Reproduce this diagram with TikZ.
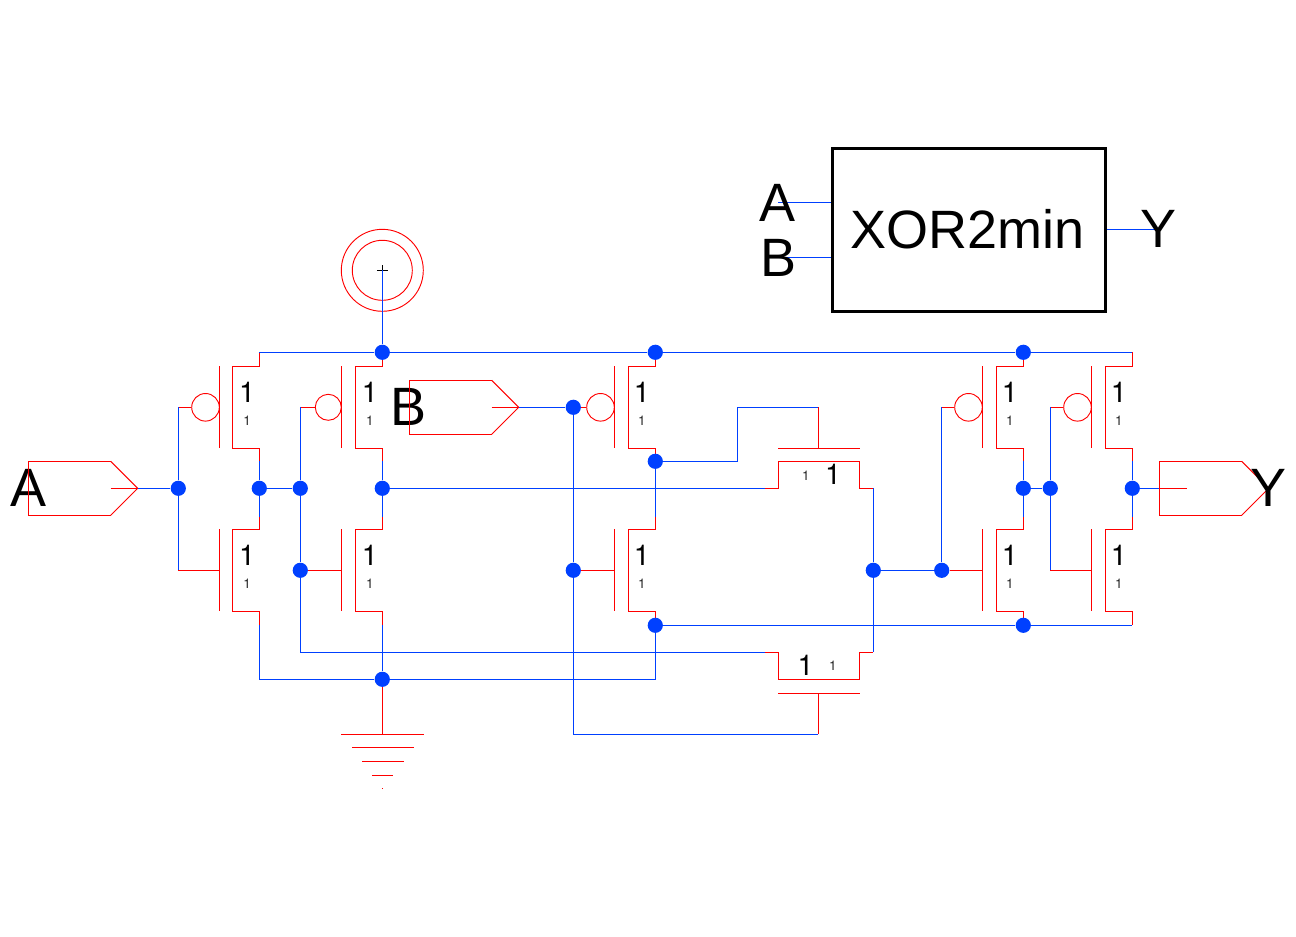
\documentclass[tikz,border=0pt]{standalone}
\usepackage{fontspec}
\setmainfont{Liberation Sans}
\newfontfamily\heros{TeX Gyre Heros}
\definecolor{wireblue}{RGB}{0,64,255}
\definecolor{devred}{RGB}{255,0,0}
\tikzset{
  bw/.style={draw=wireblue,line width=1pt},
  rw/.style={draw=devred,line width=1pt},
  rthin/.style={draw=devred,line width=0.7pt},
  dot/.style={circle,fill=wireblue,inner sep=0pt,minimum size=11.4pt},
  bigone/.style={inner sep=0pt,anchor=base,font=\heros\fontsize{21.5}{21.5}\selectfont},
  smallone/.style={inner sep=0pt,anchor=base,font=\heros\fontsize{10}{10}\selectfont,text=black!85},
  lab/.style={inner sep=0pt,anchor=base,font=\fontsize{40.5}{40.5}\selectfont},
  bubble/.style={circle,rthin,inner sep=0pt},
}
% name, gate x, channel x, rail x, centre y, stub above, stub below, label x
\newcommand{\fetbody}[8]{%
  \draw[rw] (#2,#5-41) -- (#2,#5+41);
  \draw[rw,line join=miter] (#4,#5-#6) -- (#4,#5-41) -- (#3,#5-41) -- (#3,#5+41) -- (#4,#5+41) -- (#4,#5+#7);
  \coordinate (#1-g) at (#2,#5);
  \coordinate (#1-d) at (#4,#5-#6);
  \coordinate (#1-s) at (#4,#5+#7);
  \node[bigone] (#1-w) at (#8+0.8,#5-4.6) {1};
  \node[smallone] (#1-l) at (#8+0.8,#5+18.4) {1};
}
% name, gate x, channel x, rail x, label x, bubble radius (px)
\newcommand{\pfet}[6]{%
  \fetbody{#1}{#2}{#3}{#4}{407.3}{55}{53.5}{#5}
  \node[bubble,minimum size=#6*1.5pt] (#1-b) at (#2-#6,407.3) {};
}
\newcommand{\nfet}[5]{%
  \fetbody{#1}{#2}{#3}{#4}{570.3}{53.5}{55}{#5}
}
% name, left x, mid y
\newcommand{\pinshape}[3]{%
  \draw[rw,line join=miter] (#2+82.4,#3-27) -- (#2,#3-27) -- (#2,#3+27) -- (#2+82.4,#3+27);
  \draw[rthin] (#2+82.4,#3-27) -- (#2+109.4,#3) -- (#2+82.4,#3+27);
  \coordinate (#1-tip) at (#2+109.4,#3);
  \coordinate (#1-sh) at (#2+82.4,#3);
  \coordinate (#1-in) at (#2,#3);
  \coordinate (#1-st) at (#2+27.4,#3);
}
\begin{document}
\begin{tikzpicture}[x=0.75pt,y=-0.75pt]
\path[use as bounding box,fill=white] (0,0) rectangle (1296,936);

% labels that lie under the port outlines
\node[lab] (tA) at (28.3,506.7) {A};
\node[lab] (tB) at (409,425) {B};

% transistors
\pfet{pa}{219.3}{232.3}{259.3}{246.2}{13.8}
\pfet{pb}{341.3}{355.3}{382.3}{369}{13}
\pfet{pc}{614.3}{628.3}{655.3}{641}{13.8}
\pfet{pd}{982.3}{996.3}{1023.3}{1009}{13.8}
\pfet{pe}{1091.3}{1105.3}{1132.3}{1118}{13.8}
\nfet{na}{219.3}{232.3}{259.3}{246.2}
\nfet{nb}{341.3}{355.3}{382.3}{369}
\nfet{nc}{614.3}{628.3}{655.3}{641}
\nfet{nd}{982.3}{996.3}{1023.3}{1009}
\nfet{ne}{1091.3}{1105.3}{1132.3}{1118}

% transmission gate, upper
\coordinate (tu-in) at (765,488.3);
\coordinate (tu-out) at (873.3,488.3);
\coordinate (tu-gate) at (818.3,407.3);
\coordinate (tu-bar) at (818.3,448.3);
\draw[rw] (tu-in) -- (778.3,488.3) -- (778.3,461.3) -- (859.3,461.3) -- (859.3,488.3) -- (tu-out);
\draw[rw] (778,448.3) -- (859.7,448.3);
\draw[rw] (tu-gate) -- (tu-bar);
\node[smallone] (tul) at (805.8,480) {1};
\node[bigone] (tuw) at (833,484) {1};

% transmission gate, lower
\coordinate (tl-in) at (765,652.3);
\coordinate (tl-out) at (873.3,652.3);
\coordinate (tl-gate) at (818.3,734.3);
\coordinate (tl-bar) at (818.3,693.3);
\draw[rw] (tl-in) -- (778.3,652.3) -- (778.3,679.3) -- (859.3,679.3) -- (859.3,652.3) -- (tl-out);
\draw[rw] (778,693.3) -- (859.7,693.3);
\draw[rw] (tl-gate) -- (tl-bar);
\node[smallone] (tll) at (832.8,670.7) {1};
\node[bigone] (tlw) at (805.7,675) {1};

% ports
\pinshape{pA}{28.3}{488.3}
\draw[rw] (pA-sh) -- (pA-tip);
\pinshape{pB}{409.3}{407.3}
\draw[rw] (pB-sh) -- (pB-tip);
\pinshape{pY}{1159.3}{488.3}
\draw[rw] (pY-in) -- (pY-st);
\node[lab] (tY) at (1268.5,506.7) {Y};

% supply
\node[circle,rthin,inner sep=0pt,minimum size=61.5pt] (vo) at (382.3,270.3) {};
\node[circle,rthin,inner sep=0pt,minimum size=45pt] (vi) at (382.3,270.3) {};
\draw[line width=0.7pt] (376.8,270.3) -- (387.8,270.3) (382.3,265) -- (382.3,275.5);

% junction dots
\node[dot] (jV1) at (382.3,352.3) {};
\node[dot] (jV2) at (655.3,352.3) {};
\node[dot] (jV3) at (1023.3,352.3) {};
\node[dot] (jA) at (178.3,488.3) {};
\node[dot] (jC) at (259.3,488.3) {};
\node[dot] (jD) at (300.3,488.3) {};
\node[dot] (jE) at (382.3,488.3) {};
\node[dot] (jF) at (300.3,570.3) {};
\node[dot] (jB) at (573.3,407.3) {};
\node[dot] (jH) at (573.3,570.3) {};
\node[dot] (jQ) at (655.3,461.3) {};
\node[dot] (jR) at (655.3,625.3) {};
\node[dot] (jM) at (873.3,570.3) {};
\node[dot] (jK) at (941.7,570.3) {};
\node[dot] (jS) at (1023.3,625.3) {};
\node[dot] (jT) at (1023.3,488.3) {};
\node[dot] (jU) at (1050.3,488.3) {};
\node[dot] (jW) at (1132.3,488.3) {};
\node[dot] (jG) at (382.3,679.3) {};

% ground
\coordinate (gnd) at (382.3,734.3);
\draw[rw] (jG) -- (gnd);
\draw[rw] (341,734.3) -- (423.7,734.3);
\draw[rw] (352,747.3) -- (414,747.3);
\draw[rw] (362,761.3) -- (404,761.3);
\draw[rw] (372,775.3) -- (393,775.3);
\draw[rw] (381.8,788.3) -- (382.8,788.3);

% gate corners
\coordinate (ca) at (178.3,407.3);
\coordinate (cb) at (300.3,407.3);
\coordinate (cd) at (941.7,407.3);
\coordinate (ce) at (1050.3,407.3);
\coordinate (cna) at (178.3,570.3);
\coordinate (cne) at (1050.3,570.3);
\draw[rw] (ca) -- (pa-b);
\draw[rw] (cb) -- (pb-b);
\draw[rw] (jB) -- (pc-b);
\draw[rw] (cd) -- (pd-b);
\draw[rw] (ce) -- (pe-b);
\draw[rw] (cna) -- (na-g);
\draw[rw] (jF) -- (nb-g);
\draw[rw] (jH) -- (nc-g);
\draw[rw] (jK) -- (nd-g);
\draw[rw] (cne) -- (ne-g);

% blue wiring
\draw[bw] (vi.center) -- (jV1);
\draw[bw] (pa-d) -- (jV1);
\draw[bw] (jV1) -- (jV2);
\draw[bw] (jV2) -- (jV3);
\draw[bw] (jV3) -- (pe-d);
\draw[bw] (pA-tip) -- (jA);
\draw[bw] (jA) -- (ca);
\draw[bw] (jA) -- (cna);
\draw[bw] (pa-s) -- (jC);
\draw[bw] (jC) -- (na-d);
\draw[bw] (jC) -- (jD);
\draw[bw] (jD) -- (cb);
\draw[bw] (jD) -- (jF);
\draw[bw] (pb-s) -- (jE);
\draw[bw] (jE) -- (nb-d);
\draw[bw] (jE) -- (tu-in);
\draw[bw] (na-s) |- (jG);
\draw[bw] (nb-s) -- (jG);
\draw[bw] (jF) |- (tl-in);
\draw[bw] (jG) -| (jR);
\draw[bw] (jR) -- (jS);
\draw[bw] (jS) -- (ne-s);
\draw[bw] (pB-tip) -- (jB);
\draw[bw] (jB) -- (jH);
\draw[bw] (jH) |- (tl-gate);
\draw[bw] (jQ) -- (nc-d);
\draw[bw] (jQ) -- (737.3,461.3) -- (737.3,407.3) -- (tu-gate);
\draw[bw] (tu-out) -- (jM);
\draw[bw] (jM) -- (tl-out);
\draw[bw] (jM) -- (jK);
\draw[bw] (jK) -- (cd);
\draw[bw] (pd-s) -- (jT);
\draw[bw] (jT) -- (nd-d);
\draw[bw] (jT) -- (jU);
\draw[bw] (jU) -- (ce);
\draw[bw] (jU) -- (cne);
\draw[bw] (pe-s) -- (jW);
\draw[bw] (jW) -- (ne-d);
\draw[bw] (jW) -- (pY-in);

% symbol
\node[draw=black,line width=2.1pt,inner sep=0pt,minimum width=205pt,minimum height=122.2pt] (sym) at (968.85,229.8) {};
\node[lab] (sname) at (967.2,248.3) {XOR2min};
\coordinate (sA) at (778.3,202.3);
\coordinate (sB) at (778.3,257.3);
\coordinate (sY) at (1155,229.3);
\draw[bw] (sY) -- (sym.east |- sY);
\draw[bw] (sA) -- (sym.west |- sA);
\draw[bw] (sB) -- (sym.west |- sB);
\node[lab] (sta) at (778,221.7) {A};
\node[lab] (stb) at (778.3,276) {B};
\node[lab] (sty) at (1158.5,247.3) {Y};
\end{tikzpicture}
\end{document}
